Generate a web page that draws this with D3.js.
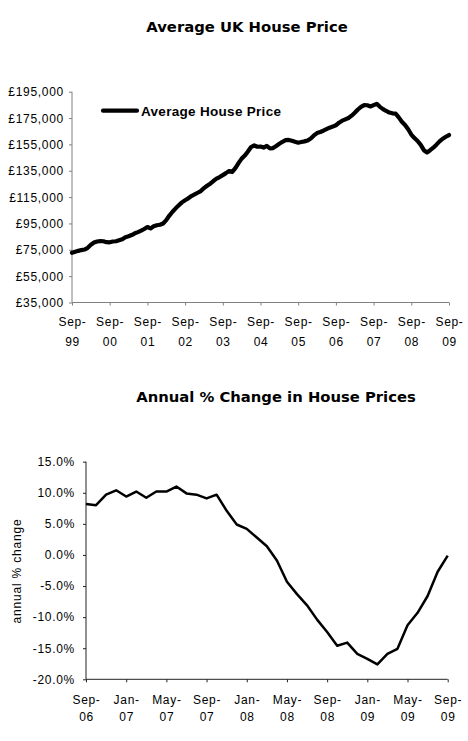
<!DOCTYPE html>
<html>
<head>
<meta charset="utf-8">
<script src="https://cdn.jsdelivr.net/npm/d3@7"></script>
<style>
  body { margin: 0; background: #fff; }
  svg { display: block; }
  .tick text { font-family: "Liberation Sans", Arial, sans-serif; font-size: 12px; letter-spacing: 0.7px; fill: #000; }
  .title { font-family: "DejaVu Sans", Verdana, sans-serif; font-weight: bold; font-size: 14.8px; }
</style>
</head>
<body>
<div id="chart"></div>
<script>
"use strict";

// Average UK house price, monthly Sep-99 .. Sep-09 (in pounds)
const priceValues = [
  72700, 73500, 74200, 74800, 75200, 76500, 78800, 80500, 81300, 81600,
  81500, 80800, 80700, 81300, 81500, 82300, 83000, 84600, 85300, 86200,
  87500, 88400, 89500, 90800, 92300, 91200, 92800, 93600, 94000, 95000,
  97500, 101000, 103900, 106500, 108800, 111000, 112600, 114000, 115800, 117000,
  118300, 119600, 121800, 123600, 125200, 127200, 129000, 130200, 131700, 133200,
  134800, 134000, 137000, 140800, 144200, 146500, 149600, 153000, 154200, 153200,
  153400, 152600, 153800, 152000, 152200, 153800, 155500, 157000, 158200, 158400,
  157800, 157000, 156300, 156800, 157300, 158000, 159500, 161800, 163600, 164400,
  165400, 166600, 167700, 168500, 169500, 171500, 173000, 174000, 175000, 176800,
  179000, 181500, 183500, 184800, 184700, 183800, 184800, 185800, 183500, 181800,
  180400, 179200, 178600, 178400, 175500, 172200, 169800, 166500, 162500, 159800,
  157600, 154600, 150600, 148900, 150600, 152500, 154800, 157300, 159300, 160800,
  162100
];
const priceTickLabels = ["Sep-99", "Sep-00", "Sep-01", "Sep-02", "Sep-03", "Sep-04",
  "Sep-05", "Sep-06", "Sep-07", "Sep-08", "Sep-09"];
const priceYTicks = [35000, 55000, 75000, 95000, 115000, 135000, 155000, 175000, 195000];

// Annual % change, monthly Sep-06 .. Sep-09
const changeValues = [
  8.2, 8.0, 9.7, 10.4, 9.4, 10.2, 9.2, 10.2, 10.2, 11.0,
  9.9, 9.7, 9.1, 9.7, 7.1, 4.9, 4.2, 2.8, 1.4, -0.9,
  -4.3, -6.3, -8.1, -10.4, -12.4, -14.6, -14.1, -15.9, -16.7, -17.6,
  -15.9, -15.1, -11.3, -9.3, -6.6, -2.7, -0.1
];
const changeTickLabels = ["Sep-06", "Jan-07", "May-07", "Sep-07", "Jan-08", "May-08",
  "Sep-08", "Jan-09", "May-09", "Sep-09"];
const changeYTicks = [-20, -15, -10, -5, 0, 5, 10, 15];

const width = 468, height = 741;

const svg = d3.select("#chart").append("svg")
  .attr("width", width)
  .attr("height", height);

// two line tick labels, "Sep-" over "99"
function splitLabels(sel, labels, gap) {
  sel.selectAll(".tick text").each(function(d, i) {
    const t = d3.select(this);
    const parts = labels[i].split("-");
    t.text(null);
    t.append("tspan").attr("x", 0).attr("dy", "0.71em").text(parts[0] + "-");
    t.append("tspan").attr("x", 0).attr("dy", gap).text(parts[1]);
  });
}

// ---- top chart
{
  const x = d3.scaleLinear().domain([0, priceValues.length - 1]).range([72, 449]);
  const y = d3.scaleLinear().domain([35000, 195000]).range([302.5, 91.7]);

  svg.append("text").attr("class", "title")
    .attr("x", 247).attr("y", 32).attr("text-anchor", "middle")
    .text("Average UK House Price");

  const yAxis = svg.append("g")
    .attr("transform", "translate(72,0)")
    .call(d3.axisLeft(y).tickValues(priceYTicks).tickSize(3).tickPadding(5)
      .tickFormat(d => "£" + d3.format(",")(d)));
  yAxis.selectAll("line, path").attr("stroke", "#808080");
  yAxis.select(".domain").attr("d", `M0,${y(35000)}V${y(195000)}`);
  yAxis.selectAll(".tick text").attr("dy", "0.34em");

  const xAxis = svg.append("g")
    .attr("transform", `translate(0,${y(35000)})`)
    .call(d3.axisBottom(x).tickValues(d3.range(0, priceValues.length, 12))
      .tickSize(3).tickPadding(12));
  xAxis.selectAll("line, path").attr("stroke", "#808080");
  xAxis.select(".domain").attr("d", `M${x(0)},0H${x(priceValues.length - 1)}`);
  splitLabels(xAxis, priceTickLabels, 19.5);

  const line = d3.line().x((d, i) => x(i)).y(d => y(d));
  svg.append("path").datum(priceValues)
    .attr("fill", "none")
    .attr("stroke", "#000")
    .attr("stroke-width", 4.2)
    .attr("stroke-linejoin", "round")
    .attr("stroke-linecap", "round")
    .attr("d", line);

  // legend
  svg.append("line")
    .attr("x1", 103).attr("x2", 137).attr("y1", 110.7).attr("y2", 110.7)
    .attr("stroke", "#000").attr("stroke-width", 4.2).attr("stroke-linecap", "round");
  svg.append("text")
    .attr("x", 141).attr("y", 115.7)
    .style("font-family", "Liberation Sans, Arial, sans-serif")
    .style("font-weight", "bold").style("font-size", "13.5px").style("letter-spacing", "0.3px")
    .text("Average House Price");
}

// ---- bottom chart
{
  const x = d3.scaleLinear().domain([0, changeValues.length - 1]).range([86, 447.7]);
  const y = d3.scaleLinear().domain([-20, 15]).range([679.3, 461.7]);

  svg.append("text").attr("class", "title")
    .attr("x", 276).attr("y", 402).attr("text-anchor", "middle")
    .text("Annual % Change in House Prices");

  const yAxis = svg.append("g")
    .attr("transform", "translate(86,0)")
    .call(d3.axisLeft(y).tickValues(changeYTicks).tickSize(3).tickPadding(8)
      .tickFormat(d => d.toFixed(1) + "%"));
  yAxis.selectAll("line, path").attr("stroke", "#222");
  yAxis.select(".domain").attr("d", `M0,${y(-20)}V${y(15)}`);

  const xAxis = svg.append("g")
    .attr("transform", `translate(0,${y(-20)})`)
    .call(d3.axisBottom(x).tickValues(d3.range(0, changeValues.length, 4))
      .tickSize(3).tickPadding(13));
  xAxis.selectAll("line, path").attr("stroke", "#222");
  xAxis.select(".domain").attr("d", `M${x(0)},0H${x(changeValues.length - 1)}`);
  splitLabels(xAxis, changeTickLabels, 17.5);

  svg.append("text")
    .attr("transform", "translate(21,571) rotate(-90)")
    .attr("text-anchor", "middle")
    .style("font-family", "Liberation Sans, Arial, sans-serif")
    .style("font-size", "12px").style("letter-spacing", "0.8px")
    .text("annual % change");

  const line = d3.line().x((d, i) => x(i)).y(d => y(d));
  svg.append("path").datum(changeValues)
    .attr("fill", "none")
    .attr("stroke", "#000")
    .attr("stroke-width", 2.5)
    .attr("stroke-linejoin", "round")
    .attr("d", line);
}
</script>
</body>
</html>
